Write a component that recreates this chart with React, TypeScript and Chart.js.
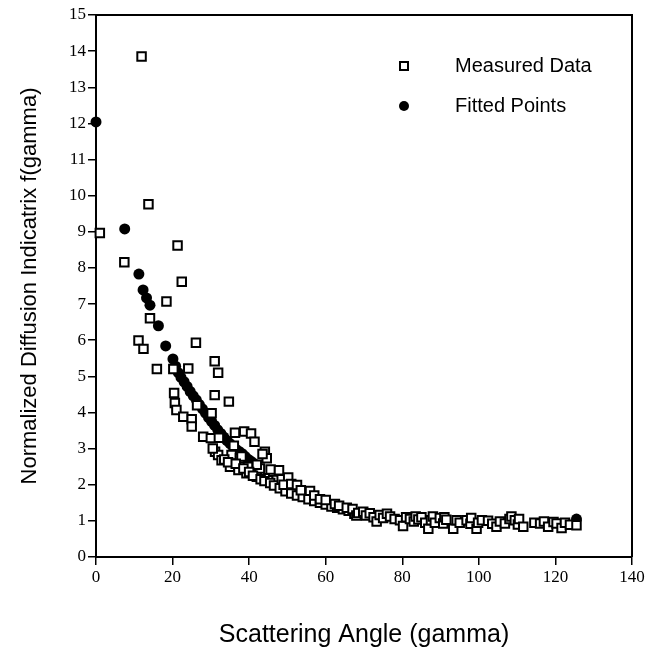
import React, { useEffect, useRef } from 'react';
import { Chart, registerables } from 'chart.js';

Chart.register(...registerables);

const seriesLabels = ['Measured Data', 'Fitted Points'];
const xTitle = 'Scattering Angle (gamma)';
const yTitle = 'Normalized Diffusion Indicatrix f(gamma)';
const xRange = [0, 140];
const yRange = [0, 15];

const measuredData: [number, number][] = [
  [1, 8.97], [7.4, 8.16], [11.9, 13.85], [13.7, 9.76], [21.3, 8.62], [22.4, 7.62],
  [18.4, 7.07], [14.1, 6.61], [11.1, 5.99], [12.4, 5.76], [15.9, 5.2], [20.2, 5.2],
  [24.1, 5.22], [26.1, 5.93], [31, 5.42], [31.9, 5.1], [31, 4.48], [34.7, 4.3],
  [20.4, 4.54], [20.6, 4.26], [21, 4.07], [22.8, 3.88], [25, 3.81], [25, 3.61],
  [26.4, 4.2], [30.2, 3.98], [28, 3.33], [30, 3.29], [32.1, 3.3], [36.3, 3.44],
  [38.7, 3.47], [40.5, 3.42], [41.4, 3.19], [36, 3.08], [44.1, 2.91], [44.6, 2.73],
  [35.4, 2.82], [37.6, 2.73], [38, 2.78], [31.1, 2.91], [31.9, 2.82], [32.8, 2.68],
  [35, 2.5], [37.2, 2.41], [39.3, 2.32], [40.2, 2.5], [42, 2.22], [42.8, 2.45],
  [45, 2.18], [46.3, 2.36], [47.2, 2.13], [42, 2.55], [39.7, 2.5], [43.5, 2.85],
  [30.5, 3.0], [33.5, 2.7], [34.5, 2.62], [36.5, 2.58], [38.5, 2.45], [40, 2.35],
  [41, 2.25], [43, 2.15], [44, 2.1], [45.5, 2.05], [46.5, 1.98], [48, 1.9],
  [49.5, 1.82], [51, 1.76], [52.5, 1.7], [54, 1.66], [55.5, 1.6], [57, 1.55],
  [58.5, 1.5], [60, 1.45], [61.5, 1.4], [63, 1.36], [64.5, 1.32], [66, 1.28],
  [67.5, 1.2], [45.6, 2.42], [47.8, 2.4], [48.5, 2.15], [50.2, 2.2], [49, 2.0],
  [51, 2.02], [52.5, 1.99], [53.5, 1.85], [55.9, 1.83], [57, 1.7], [58.5, 1.6],
  [60, 1.58], [62.4, 1.47], [63.5, 1.42], [65.5, 1.36], [67, 1.33], [68, 1.15],
  [68.5, 1.22], [69.8, 1.25], [70.5, 1.15], [71.5, 1.21], [72.5, 1.1], [73.3, 0.98],
  [74.1, 1.16], [75, 1.08], [76, 1.2], [76.8, 1.12], [78, 1.05], [79.4, 1.02],
  [80.2, 0.86], [81, 1.1], [82, 1.05], [83, 0.98], [83.5, 1.12], [84.2, 1.04],
  [85, 1.1], [86, 0.95], [86.8, 0.78], [87.5, 1.02], [88, 1.12], [88.5, 0.95],
  [89.8, 1.08], [90.7, 0.93], [91, 1.1], [91.5, 1.03], [93.3, 0.78], [94.2, 1.02],
  [95, 0.95], [96.8, 1.02], [97.8, 0.92], [98, 1.08], [99.4, 0.78], [99.8, 0.95],
  [100.8, 1.02], [102.4, 1.0], [103.5, 0.92], [104.6, 0.84], [105.5, 0.98],
  [106.8, 0.93], [108, 1.05], [108.5, 1.12], [109.4, 1.02], [110.2, 0.9],
  [110.5, 1.05], [111.6, 0.84], [114.5, 0.95], [116, 0.93], [117, 0.98],
  [118.1, 0.84], [119.5, 0.97], [120.3, 0.93], [121.6, 0.8], [122.5, 0.95],
  [123.8, 0.89], [125.5, 0.88]
];

const fittedData: [number, number][] = [
  [0, 12.04], [7.5, 9.08], [11.2, 7.83], [12.3, 7.39], [13.2, 7.17], [14.1, 6.97],
  [16.3, 6.4], [18.2, 5.84], [20.1, 5.48], [20.8, 5.28], [21.5, 5.1], [22.2, 4.97],
  [23, 4.85], [23.8, 4.72], [24.6, 4.58], [25.4, 4.46], [26.2, 4.35], [27, 4.22],
  [27.8, 4.1], [28.6, 3.98], [29.4, 3.86], [30.2, 3.75], [31, 3.64], [31.8, 3.52],
  [32.6, 3.42], [33.4, 3.32], [34.2, 3.22], [35, 3.14], [35.8, 3.06], [36.6, 2.98],
  [37.4, 2.92], [38.2, 2.86], [39, 2.78], [39.8, 2.7], [40.6, 2.64], [41.4, 2.58],
  [125.5, 1.05]
];

const framePlugin = {
  id: 'frame',
  beforeDatasetsDraw(chart: any) {
    const { ctx, chartArea } = chart;
    ctx.save();
    ctx.strokeStyle = '#000';
    ctx.lineWidth = 2;
    ctx.beginPath();
    ctx.moveTo(chartArea.left, chartArea.top);
    ctx.lineTo(chartArea.right, chartArea.top);
    ctx.lineTo(chartArea.right, chartArea.bottom);
    ctx.stroke();
    ctx.restore();
  }
};

const legendPlugin = {
  id: 'customLegend',
  afterDraw(chart: any) {
    const { ctx } = chart;
    ctx.save();
    ctx.font = '20px "Liberation Sans", Arial, sans-serif';
    ctx.fillStyle = '#000';
    ctx.textBaseline = 'middle';
    ctx.textAlign = 'left';
    // square marker
    ctx.strokeStyle = '#000';
    ctx.lineWidth = 2;
    ctx.fillStyle = '#fff';
    ctx.fillRect(400, 62, 8, 8);
    ctx.strokeRect(400, 62, 8, 8);
    ctx.fillStyle = '#000';
    ctx.fillText(seriesLabels[0], 455, 66);
    ctx.beginPath();
    ctx.arc(404, 106, 5, 0, Math.PI * 2);
    ctx.fill();
    ctx.fillText(seriesLabels[1], 455, 106);
    ctx.restore();
  }
};

export default function App() {
  const ref = useRef<HTMLCanvasElement | null>(null);
  useEffect(() => {
    document.body.style.margin = '0';
    const canvas = ref.current;
    if (!canvas) return;
    const chart = new Chart(canvas, {
      type: 'scatter',
      data: {
        datasets: [
          {
            label: seriesLabels[0],
            data: measuredData.map(([x, y]) => ({ x, y })),
            pointStyle: 'rect',
            pointRadius: 6,
            pointBorderWidth: 2,
            pointBackgroundColor: '#fff',
            pointBorderColor: '#000',
            showLine: false,
            clip: false
          },
          {
            label: seriesLabels[1],
            data: fittedData.map(([x, y]) => ({ x, y })),
            pointStyle: 'circle',
            pointRadius: 5.5,
            pointBorderWidth: 0,
            pointBackgroundColor: '#000',
            pointBorderColor: '#000',
            showLine: false,
            clip: false
          }
        ]
      },
      options: {
        responsive: false,
        animation: false,
        devicePixelRatio: 1,
        layout: { padding: { top: 15, right: 23, left: 0, bottom: 0 } },
        plugins: { legend: { display: false }, tooltip: { enabled: false } },
        scales: {
          x: {
            type: 'linear',
            min: xRange[0],
            max: xRange[1],
            ticks: {
              stepSize: 20,
              color: '#000',
              padding: 2,
              maxRotation: 0,
              font: { family: '"Liberation Serif", serif', size: 17 }
            },
            grid: { drawOnChartArea: false, drawTicks: true, tickLength: 8, color: '#000', lineWidth: 1.5 },
            border: { display: true, color: '#000', width: 2 },
            title: {
              display: true,
              text: xTitle,
              color: '#000',
              font: { family: '"Liberation Sans", Arial, sans-serif', size: 25 },
              padding: { top: 0, bottom: 12 }
            },
            afterFit: (s: any) => { s.height = 105; }
          },
          y: {
            type: 'linear',
            min: yRange[0],
            max: yRange[1],
            ticks: {
              stepSize: 1,
              color: '#000',
              padding: 2,
              font: { family: '"Liberation Serif", serif', size: 17 }
            },
            grid: { drawOnChartArea: false, drawTicks: true, tickLength: 8, color: '#000', lineWidth: 1.5 },
            border: { display: true, color: '#000', width: 2 },
            title: {
              display: true,
              text: yTitle,
              color: '#000',
              font: { family: '"Liberation Sans", Arial, sans-serif', size: 22 },
              padding: { top: 17, bottom: 0 }
            },
            afterFit: (s: any) => { s.width = 96; }
          }
        }
      },
      plugins: [framePlugin, legendPlugin]
    });
    return () => chart.destroy();
  }, []);
  return (
    <div style={{ width: 655, height: 662, background: '#fff' }}>
      <canvas ref={ref} width={655} height={662} style={{ display: 'block' }} />
    </div>
  );
}
